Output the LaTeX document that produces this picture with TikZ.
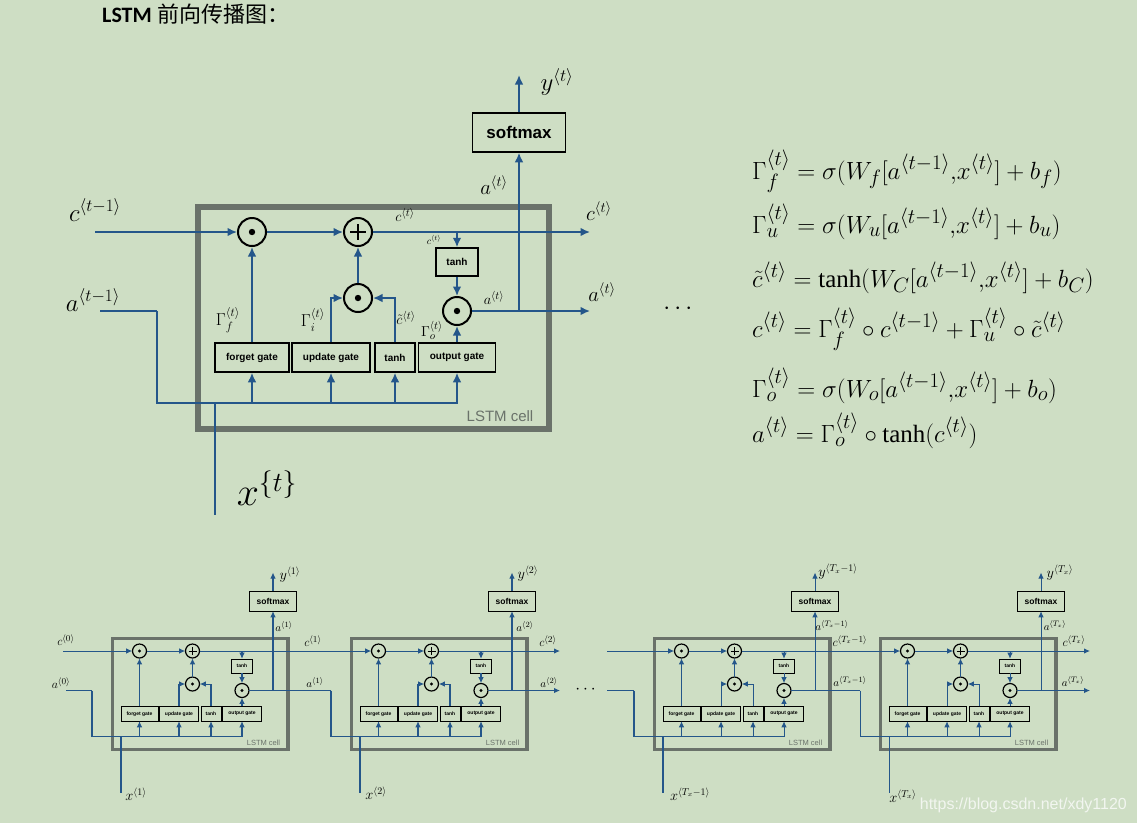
\documentclass[tikz,border=0pt]{standalone}
\usepackage{amsmath, amssymb}
\usepackage{fontspec}
\setmainfont{Liberation Serif}
\setsansfont{Liberation Sans}
\newfontfamily\cjkfont{Noto Sans CJK SC}
\newfontfamily\titlefont{Carlito}
\usetikzlibrary{arrows.meta}
\definecolor{bgpaper}{RGB}{206,222,196}
\definecolor{wireblue}{RGB}{36,86,138}
\definecolor{cellgray}{RGB}{106,114,106}
\definecolor{marktext}{RGB}{242,246,240}

\tikzset{
  wire/.style={draw=wireblue, line width=#1},
  wire/.default=1.7pt,
  feed/.style={wire=#1, -{Latex[length=1pt 5, width=1pt 4.5]}},
  feed/.default=1.7pt,
  opcirc/.style={circle, draw=black, line width=#1, minimum size=28pt, inner sep=0pt, fill=bgpaper},
  gatebox/.style={draw=black, line width=#1, minimum height=29pt, inner sep=0pt,
    font=\sffamily\bfseries\fontsize{10}{11}\selectfont},
  lbl/.style={inner sep=0pt, font=\fontsize{#1}{#1}\selectfont},
  eqn/.style={anchor=base west, inner sep=0pt, font=\fontsize{24.88}{26}\selectfont},
  % one LSTM cell, origin at the top left of its frame
  pics/lstmcell/.style={code={
    \draw[cellgray, line width=6pt*#1] (3,3) rectangle (354,225);
    \node[text=cellgray, font=\sffamily\fontsize{15}{15}\selectfont] (-name) at (305,212) {LSTM cell};
    \node[opcirc=2pt*#1] (-fm) at (57,28) {};
    \node[opcirc=2pt*#1] (-add) at (163,28) {};
    \node[opcirc=2pt*#1] (-um) at (163,94) {};
    \node[opcirc=2pt*#1] (-om) at (262,107) {};
    \foreach \n in {fm,um,om} \fill (-\n) circle[radius=3.2];
    \draw[line width=1.6pt*#1] (-add.center) ++(-8,0) -- ++(16,0)
      (-add.center) ++(0,-8) -- ++(0,16);
    \node[gatebox=1.5pt*#1, minimum width=74pt] (-fg) at (57,153.5) {forget gate};
    \node[gatebox=1.5pt*#1, minimum width=78pt] (-ug) at (136,153.5) {update gate};
    \node[gatebox=1.5pt*#1, minimum width=40pt] (-tg) at (200,153.5) {tanh};
    \node[gatebox=1.5pt*#1, minimum width=77pt] (-og) at (262,153.5) {output gate};
    \node[gatebox=1.5pt*#1, minimum width=42pt, minimum height=28pt] (-ct) at (262,58) {tanh};
    \node[gatebox=1.5pt*#1, minimum width=93pt, minimum height=39pt,
      font=\sffamily\bfseries\fontsize{17}{17}\selectfont] (-soft) at (324,-71.5) {softmax};
    \coordinate (-cj) at (262,28);
    \coordinate (-aj) at (324,107);
    \coordinate (-ain) at (-38,107);
    \coordinate (-bus) at (-38,199);
    \coordinate (-xin) at (20,311);
    \coordinate (-yout) at (324,-129);
    \draw[feed=1.7pt*#1] (-fm) -- (-add);
    \draw[feed=1.7pt*#1] (-fg) -- (-fm);
    \draw[feed=1.7pt*#1] (-um) -- (-add);
    \draw[feed=1.7pt*#1] (-ug.north) |- (-um);
    \draw[feed=1.7pt*#1] (-tg.north) |- (-um);
    \draw[feed=1.7pt*#1] (-og) -- (-om);
    \draw[wire=1.7pt*#1] (-add) -- (-cj);
    \draw[feed=1.7pt*#1] (-cj) -- (-ct);
    \draw[feed=1.7pt*#1] (-ct) -- (-om);
    \draw[wire=1.7pt*#1] (-om) -- (-aj);
    \draw[feed=1.7pt*#1] (-aj) -- (-soft);
    \draw[feed=1.7pt*#1] (-soft) -- (-yout);
    \draw[wire=1.7pt*#1] (-ain) -- (-bus) -- (262,199);
    \draw[wire=1.7pt*#1] (20,199) -- (-xin);
    \foreach \g in {fg,ug,tg,og} \draw[feed=1.7pt*#1] (-\g.south) ++(0,31) -- (-\g.south);
  }}
}

\begin{document}
\begin{tikzpicture}[x=1pt, y=-1pt]
  \fill[bgpaper] (0,0) rectangle (1137,823);
  \useasboundingbox (0,0) rectangle (1137,823);

  \node[anchor=base west, inner sep=0pt] (title) at (102,22)
    {\fontsize{22}{22}\selectfont{\titlefont\bfseries LSTM} {\cjkfont 前向传播图：}};

  % big cell
  \pic (big) at (195,204) {lstmcell=1};
  \coordinate (cin) at (95,232);
  \coordinate (ain) at (100,311);
  \coordinate (cout) at (590,232);
  \coordinate (aout) at (590,311);
  \draw[feed] (cin) -- (big-fm);
  \draw[wire] (ain) -- (big-ain);
  \draw[feed] (big-cj) -- (cout);
  \draw[feed] (big-aj) -- (aout);

  \node[lbl=24] (ctm) at (95,210) {$c^{\langle t-1\rangle}$};
  \node[lbl=24] (atm) at (93,300) {$a^{\langle t-1\rangle}$};
  \node[lbl=24] (yt) at (557,82) {$y^{\langle t\rangle}$};
  \node[lbl=20] (atup) at (494,185) {$a^{\langle t\rangle}$};
  \node[lbl=22] (ctr) at (599,211) {$c^{\langle t\rangle}$};
  \node[lbl=22] (atr) at (602,292) {$a^{\langle t\rangle}$};
  \node[lbl=15] (cti) at (405,215) {$c^{\langle t\rangle}$};
  \node[lbl=10] (ctb) at (434,240) {$c^{\langle t\rangle}$};
  \node[lbl=15] (ati) at (494,298) {$a^{\langle t\rangle}$};
  \node[lbl=17] (gf) at (228,320) {$\Gamma_f^{\langle t\rangle}$};
  \node[lbl=17] (gi) at (313,320) {$\Gamma_i^{\langle t\rangle}$};
  \node[lbl=15] (ctil) at (406,318) {$\tilde{c}^{\langle t\rangle}$};
  \node[lbl=15] (go) at (432,330) {$\Gamma_o^{\langle t\rangle}$};
  \node[lbl=24, scale=1.6, transform shape] (xt) at (267,488) {$x^{\{t\}}$};
  \node[lbl=30] (dots) at (680,309) {$\cdots$};

  % equations
  \node[eqn] (eq1) at (752,179) {$\Gamma_f^{\langle t\rangle}=\sigma(W_f[a^{\langle t-1\rangle}{,}x^{\langle t\rangle}]+b_f)$};
  \node[eqn] (eq2) at (752,233) {$\Gamma_u^{\langle t\rangle}=\sigma(W_u[a^{\langle t-1\rangle}{,}x^{\langle t\rangle}]+b_u)$};
  \node[eqn] (eq3) at (752,287) {$\tilde{c}^{\langle t\rangle}=\tanh(W_C[a^{\langle t-1\rangle}{,}x^{\langle t\rangle}]+b_C)$};
  \node[eqn] (eq4) at (752,337) {$c^{\langle t\rangle}=\Gamma_f^{\langle t\rangle}\circ c^{\langle t-1\rangle}+\Gamma_u^{\langle t\rangle}\circ\tilde{c}^{\langle t\rangle}$};
  \node[eqn] (eq5) at (752,397) {$\Gamma_o^{\langle t\rangle}=\sigma(W_o[a^{\langle t-1\rangle}{,}x^{\langle t\rangle}]+b_o)$};
  \node[eqn] (eq6) at (752,442) {$a^{\langle t\rangle}=\Gamma_o^{\langle t\rangle}\circ\tanh(c^{\langle t\rangle})$};

  % unrolled row
  \pic[scale=0.5, transform shape] (ca) at (111,637) {lstmcell=0.6};
  \pic[scale=0.5, transform shape] (cb) at (350,637) {lstmcell=0.6};
  \pic[scale=0.5, transform shape] (cc) at (653,637) {lstmcell=0.6};
  \pic[scale=0.5, transform shape] (cd) at (879,637) {lstmcell=0.6};
  \coordinate (c0in) at (63,651);
  \coordinate (a0in) at (66,690.5);
  \coordinate (c2out) at (560,651);
  \coordinate (a2out) at (560,690.5);
  \coordinate (c3in) at (607,651);
  \coordinate (a3in) at (607,690.5);
  \coordinate (c4out) at (1090,651);
  \coordinate (a4out) at (1090,690.5);
  \draw[feed=1pt] (c0in) -- (ca-fm);
  \draw[wire=1pt] (a0in) -- (ca-ain);
  \draw[feed=1pt] (ca-cj) -- (cb-fm);
  \draw[wire=1pt] (ca-aj) -- (cb-ain);
  \draw[feed=1pt] (cb-cj) -- (c2out);
  \draw[feed=1pt] (cb-aj) -- (a2out);
  \draw[feed=1pt] (c3in) -- (cc-fm);
  \draw[wire=1pt] (a3in) -- (cc-ain);
  \draw[feed=1pt] (cc-cj) -- (cd-fm);
  \draw[wire=1pt] (cc-aj) -- (cd-ain);
  \draw[feed=1pt] (cd-cj) -- (c4out);
  \draw[feed=1pt] (cd-aj) -- (a4out);
  \node[lbl=16] (dots2) at (587,690) {$\cdots$};

  \node[lbl=13] (c0) at (66,640) {$c^{\langle 0\rangle}$};
  \node[lbl=13] (a0) at (61,683) {$a^{\langle 0\rangle}$};
  \node[lbl=14] (y1) at (290,575) {$y^{\langle 1\rangle}$};
  \node[lbl=11] (a1u) at (284,626) {$a^{\langle 1\rangle}$};
  \node[lbl=13] (c1) at (313,641) {$c^{\langle 1\rangle}$};
  \node[lbl=11] (a1r) at (315,682) {$a^{\langle 1\rangle}$};
  \node[lbl=14] (x1) at (136,794) {$x^{\langle 1\rangle}$};
  \node[lbl=14] (y2) at (528,574) {$y^{\langle 2\rangle}$};
  \node[lbl=11] (a2u) at (525,626) {$a^{\langle 2\rangle}$};
  \node[lbl=13] (c2) at (548,641) {$c^{\langle 2\rangle}$};
  \node[lbl=11] (a2r) at (549,682) {$a^{\langle 2\rangle}$};
  \node[lbl=14] (x2) at (376,793) {$x^{\langle 2\rangle}$};
  \node[lbl=14] (y3) at (838,572) {$y^{\langle T_x-1\rangle}$};
  \node[lbl=11] (a3u) at (832,625) {$a^{\langle T_x-1\rangle}$};
  \node[lbl=13] (c3) at (850,641) {$c^{\langle T_x-1\rangle}$};
  \node[lbl=11] (a3r) at (850,681) {$a^{\langle T_x-1\rangle}$};
  \node[lbl=14] (x3) at (690,794) {$x^{\langle T_x-1\rangle}$};
  \node[lbl=14] (y4) at (1060,573) {$y^{\langle T_x\rangle}$};
  \node[lbl=11] (a4u) at (1055,625) {$a^{\langle T_x\rangle}$};
  \node[lbl=13] (c4) at (1074,641) {$c^{\langle T_x\rangle}$};
  \node[lbl=11] (a4r) at (1073,681) {$a^{\langle T_x\rangle}$};
  \node[lbl=14] (x4) at (903,796) {$x^{\langle T_x\rangle}$};

  \node[anchor=base east, inner sep=0pt, text=marktext, font=\sffamily\fontsize{16}{16}\selectfont]
    (mark) at (1127,809) {https://blog.csdn.net/xdy1120};
\end{tikzpicture}
\end{document}
